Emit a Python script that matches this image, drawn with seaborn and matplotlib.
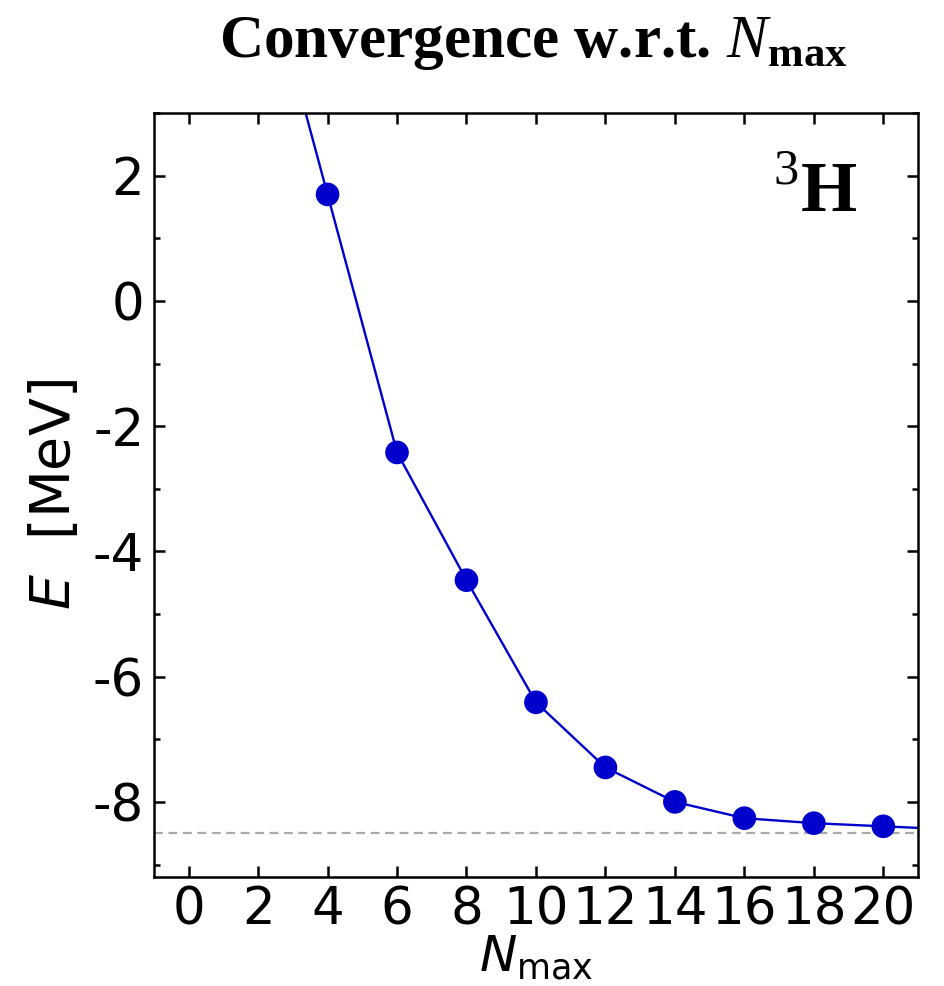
import numpy as np
import pandas as pd
import matplotlib
matplotlib.use("Agg")
import matplotlib.pyplot as plt
from matplotlib.ticker import MultipleLocator
import seaborn as sns

# ---- data ----
n_max = [4, 6, 8, 10, 12, 14, 16, 18, 20]
energy = [1.70, -2.42, -4.46, -6.41, -7.45, -8.00, -8.26, -8.34, -8.39]
e_reference = -8.49
x_ticks = [0, 2, 4, 6, 8, 10, 12, 14, 16, 18, 20]
y_ticks = [-8, -6, -4, -2, 0, 2]

sns.set_style("ticks")
plt.rcParams["font.family"] = ["DejaVu Sans"]
plt.rcParams["axes.unicode_minus"] = False
for k in ["text.color", "axes.labelcolor", "xtick.color", "ytick.color",
          "axes.edgecolor"]:
    plt.rcParams[k] = "black"
plt.rcParams["mathtext.fontset"] = "custom"
plt.rcParams["mathtext.rm"] = "DejaVu Sans"
plt.rcParams["mathtext.it"] = "DejaVu Sans:italic"
plt.rcParams["mathtext.bf"] = "Liberation Serif:bold"
plt.rcParams["mathtext.sf"] = "Liberation Serif:italic"
plt.rcParams["mathtext.tt"] = "Liberation Serif"

fig = plt.figure(figsize=(9.44, 9.86), dpi=100)
ax = fig.add_axes([0.163, 0.1105, 0.8095, 0.7749])

xlim = (-1, 21)
ylim = (-9.2, 3.0)

# line extended to the axes limits by linear extrapolation of end segments
x0, x1 = n_max[0], n_max[1]
y0, y1 = energy[0], energy[1]
xa, xb = n_max[-2], n_max[-1]
ya, yb = energy[-2], energy[-1]
left_x = xlim[0]
left_y = y0 + (y0 - y1) / (x1 - x0) * (x0 - left_x)
right_x = xlim[1]
right_y = yb + (yb - ya) / (xb - xa) * (right_x - xb)
line_df = pd.DataFrame({"N": [left_x] + n_max + [right_x],
                        "E": [left_y] + energy + [right_y]})
pts_df = pd.DataFrame({"N": n_max, "E": energy})

ax.axhline(e_reference, color="#aaaaaa", ls=(0, (4, 2.5)), lw=1.6, zorder=1)
sns.lineplot(data=line_df, x="N", y="E", ax=ax, color="#0000cc", lw=1.7,
             sort=False, zorder=2)
sns.scatterplot(data=pts_df, x="N", y="E", ax=ax, color="#0000cc", s=290,
                edgecolor="none", zorder=3)

ax.set_xlim(*xlim)
ax.set_ylim(*ylim)
ax.set_xticks(x_ticks)
ax.set_yticks(y_ticks)
ax.yaxis.set_minor_locator(MultipleLocator(1))
ax.tick_params(which="both", direction="in", top=True, right=True,
               width=1.8, labelsize=37, pad=7)
ax.tick_params(axis="x", pad=6)
ax.tick_params(which="major", length=8)
ax.tick_params(which="minor", length=4.5)
for s in ax.spines.values():
    s.set_linewidth(1.8)

ax.set_xlabel(r"$N_{\mathrm{max}}$", fontsize=36, labelpad=-1)
ax.set_ylabel(r"$E$  [MeV]", fontsize=40, labelpad=8)

ax.text(0.921, 0.870, r"$^{\mathtt{3}}\mathbf{H}$", transform=ax.transAxes,
        ha="right", va="baseline", fontsize=52)

fig.text(0.565, 0.942, r"Convergence w.r.t. $\mathsf{N}_{\mathbf{max}}$",
         ha="center", va="baseline", fontsize=44,
         fontfamily="Liberation Serif", fontweight="bold")

fig.savefig("out.png", dpi=100)
